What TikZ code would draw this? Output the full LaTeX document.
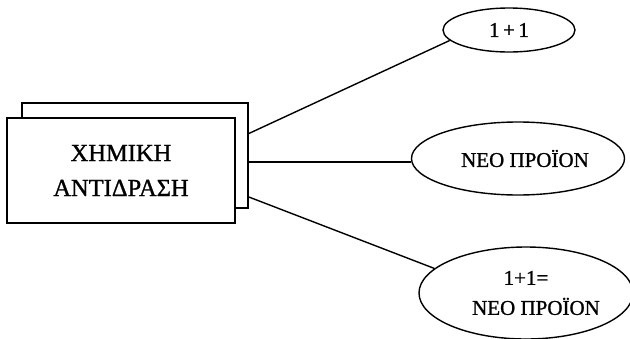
\documentclass[tikz,border=0pt]{standalone}
\usepackage{fontspec}
\setmainfont{Liberation Serif}[FakeBold=1]
\usetikzlibrary{shapes.geometric}
\begin{document}
\begin{tikzpicture}[x=1pt,y=-1pt,
  boxstyle/.style={draw, line width=1.7pt, fill=white, inner sep=0pt, align=center, font=\fontsize{24.5}{35}\selectfont},
  ell/.style={draw, ellipse, line width=1.4pt, inner sep=0pt, align=center, font=\fontsize{21}{30}\selectfont},
  conn/.style={line width=1.4pt}]
\useasboundingbox (0,0) rectangle (630,338);
\clip (0,0) rectangle (630,338);
\node[boxstyle, minimum width=226pt, minimum height=105pt] (back) at (135,155.5) {};
\node[boxstyle, minimum width=228pt, minimum height=105pt] (front) at (121,170.5) {ΧΗΜΙΚΗ\\ΑΝΤΙΔΡΑΣΗ};
\node[ell, minimum width=132pt, minimum height=44pt] (e1) at (509,30) {1\,+\,1};
\node[ell, minimum width=213pt, minimum height=73pt] (e2) at (518,158.5) {\hspace*{14pt}ΝΕΟ ΠΡΟΪΟΝ};
\node[ell, minimum width=214pt, minimum height=92pt] (e3) at (526,293) {1+1=\\\hspace*{20pt}ΝΕΟ ΠΡΟΪΟΝ};
\draw[conn] ([yshift=22pt]back.east) -- (e1.190);
\draw[conn] ([yshift=-6.5pt]back.east) -- (e2.west |- 0,162);
\draw[conn] ([yshift=-41.5pt]back.east) -- (e3.165);
\end{tikzpicture}
\end{document}
